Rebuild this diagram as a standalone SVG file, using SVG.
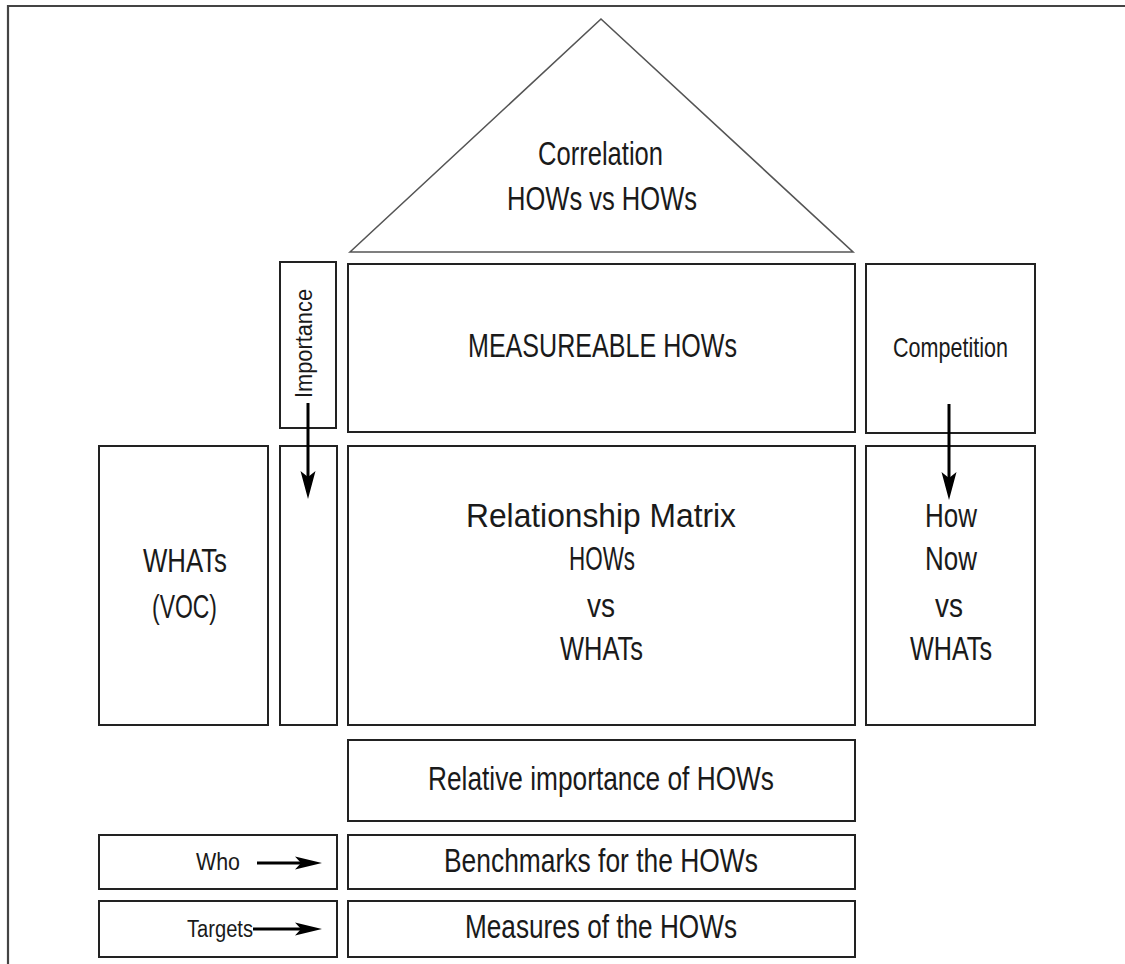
<svg xmlns="http://www.w3.org/2000/svg" width="1125" height="964" viewBox="0 0 1125 964">
  <style>
    .box { fill: none; stroke: #222; stroke-width: 2; }
    .roof { fill: none; stroke: #555; stroke-width: 1.6; }
    .frame { fill: none; stroke: #444; stroke-width: 2.2; }
    .lbl { font-family: "Liberation Sans", Arial, sans-serif; fill: #1a1a1a; }
    .big { font-size: 33px; }
    .mid { font-size: 28px; }
    .sm { font-size: 23px; }
    .arr { stroke: #000; stroke-width: 3; fill: none; }
    .head { fill: #000; stroke: none; }
  </style>
  <defs>
    <!-- arrowheads point along +x with the tip at the origin -->
    <path id="headL" d="M0,0 L-28,-7.5 L-22,0 L-28,7.5 Z"/>
    <path id="headS" d="M0,0 L-27,-6.5 L-21,0 L-27,6.5 Z"/>
  </defs>

  <!-- page frame -->
  <path class="frame" d="M8,964 L8,6 L1125,6"/>

  <!-- roof: correlation triangle -->
  <g id="correlation">
    <polygon class="roof" points="350,252 601,19 853,252"/>
    <text class="lbl big" x="538" y="165" textLength="125" lengthAdjust="spacingAndGlyphs">Correlation</text>
    <text class="lbl big" x="507" y="210" textLength="190" lengthAdjust="spacingAndGlyphs">HOWs vs HOWs</text>
  </g>

  <g id="importance-top">
    <rect class="box" x="280" y="262" width="56" height="166"/>
    <text class="lbl sm" transform="translate(312,398) rotate(-90)" textLength="109" lengthAdjust="spacingAndGlyphs">Importance</text>
  </g>

  <g id="measureable-hows">
    <rect class="box" x="348" y="264" width="507" height="168"/>
    <text class="lbl big" x="468" y="357" textLength="269" lengthAdjust="spacingAndGlyphs">MEASUREABLE HOWs</text>
  </g>

  <g id="competition">
    <rect class="box" x="866" y="264" width="169" height="169"/>
    <text class="lbl mid" x="893" y="357" textLength="115" lengthAdjust="spacingAndGlyphs">Competition</text>
  </g>

  <g id="whats">
    <rect class="box" x="99" y="446" width="169" height="279"/>
    <text class="lbl big" x="143" y="572" textLength="84" lengthAdjust="spacingAndGlyphs">WHATs</text>
    <text class="lbl big" x="152" y="618" textLength="65" lengthAdjust="spacingAndGlyphs">(VOC)</text>
  </g>

  <g id="importance-col">
    <rect class="box" x="280" y="446" width="57" height="279"/>
  </g>

  <g id="relationship-matrix">
    <rect class="box" x="348" y="446" width="507" height="279"/>
    <text class="lbl big" x="466" y="527" textLength="270" lengthAdjust="spacingAndGlyphs">Relationship Matrix</text>
    <text class="lbl big" x="569" y="570" textLength="66" lengthAdjust="spacingAndGlyphs">HOWs</text>
    <text class="lbl big" x="587" y="617" textLength="28" lengthAdjust="spacingAndGlyphs">vs</text>
    <text class="lbl big" x="560" y="660" textLength="83" lengthAdjust="spacingAndGlyphs">WHATs</text>
  </g>

  <g id="how-now">
    <rect class="box" x="866" y="446" width="169" height="279"/>
    <text class="lbl big" x="925" y="527" textLength="52" lengthAdjust="spacingAndGlyphs">How</text>
    <text class="lbl big" x="925" y="570" textLength="52" lengthAdjust="spacingAndGlyphs">Now</text>
    <text class="lbl big" x="935" y="617" textLength="28" lengthAdjust="spacingAndGlyphs">vs</text>
    <text class="lbl big" x="910" y="660" textLength="82" lengthAdjust="spacingAndGlyphs">WHATs</text>
  </g>

  <g id="relative-importance">
    <rect class="box" x="348" y="740" width="507" height="81"/>
    <text class="lbl big" x="428" y="790" textLength="346" lengthAdjust="spacingAndGlyphs">Relative importance of HOWs</text>
  </g>

  <g id="who">
    <rect class="box" x="99" y="835" width="238" height="54"/>
    <text class="lbl sm" x="196" y="870" textLength="44" lengthAdjust="spacingAndGlyphs">Who</text>
  </g>

  <g id="benchmarks">
    <rect class="box" x="348" y="835" width="507" height="54"/>
    <text class="lbl big" x="444" y="872" textLength="314" lengthAdjust="spacingAndGlyphs">Benchmarks for the HOWs</text>
  </g>

  <g id="targets">
    <rect class="box" x="99" y="901" width="238" height="56"/>
    <text class="lbl sm" x="187" y="937" textLength="66" lengthAdjust="spacingAndGlyphs">Targets</text>
  </g>

  <g id="measures">
    <rect class="box" x="348" y="901" width="507" height="56"/>
    <text class="lbl big" x="465" y="938" textLength="272" lengthAdjust="spacingAndGlyphs">Measures of the HOWs</text>
  </g>

  <!-- connectors: shafts stop inside the head so the tip stays sharp -->
  <g id="connectors">
    <line class="arr" x1="308" y1="403" x2="308" y2="480"/>
    <use href="#headL" class="head" transform="translate(308,499) rotate(90)"/>
    <line class="arr" x1="949" y1="404" x2="949" y2="481"/>
    <use href="#headL" class="head" transform="translate(949,500) rotate(90)"/>
    <line class="arr" x1="257" y1="863" x2="303" y2="863"/>
    <use href="#headS" class="head" transform="translate(322,863)"/>
    <line class="arr" x1="253" y1="929" x2="303" y2="929"/>
    <use href="#headS" class="head" transform="translate(322,929)"/>
  </g>
</svg>
